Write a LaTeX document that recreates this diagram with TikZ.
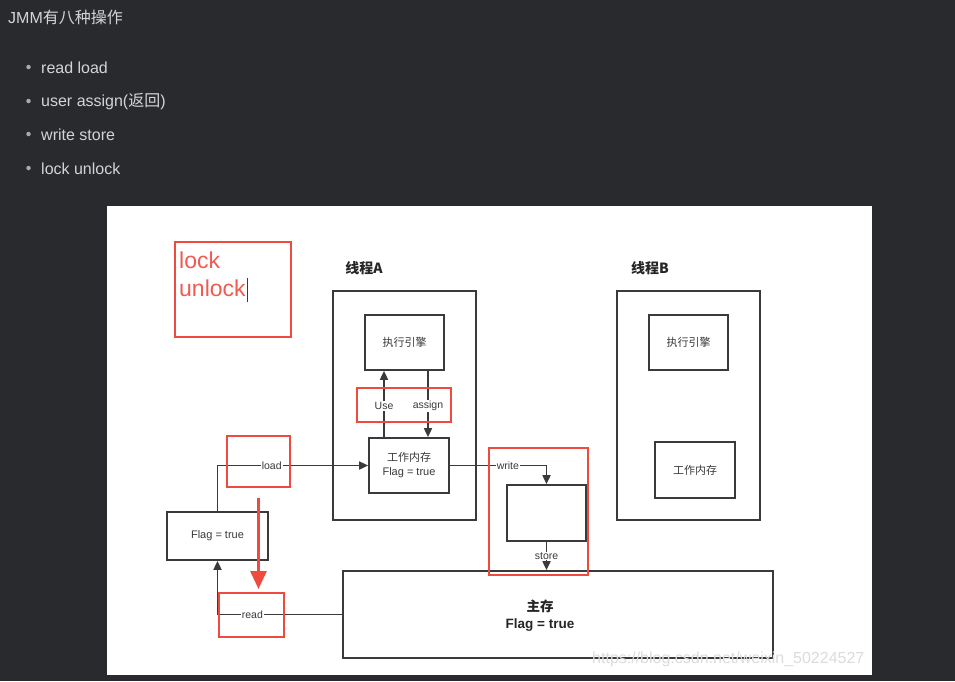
\documentclass[tikz,border=0pt]{standalone}
\usepackage{fontspec}
\setmainfont{Liberation Sans}
\newfontfamily\cjk{Noto Sans CJK SC}
\usetikzlibrary{arrows.meta, positioning}
\usepackage{xcolor}
\definecolor{pagebg}{HTML}{292A2D}
\definecolor{headtext}{HTML}{D4D4D4}
\definecolor{linec}{HTML}{3A3A3A}
\definecolor{markred}{HTML}{EE4B3E}
\definecolor{marktext}{HTML}{F05A50}
\definecolor{wmark}{HTML}{DCDCDC}

\begin{document}
\begin{tikzpicture}[
  x=1pt, y=-1pt,
  box/.style={rectangle, draw=linec, line width=1.7pt, align=center, inner sep=0pt, text=linec, font=\fontsize{11}{14}\selectfont},
  redbox/.style={rectangle, draw=markred, line width=2pt, inner sep=0pt},
  lbl/.style={fill=white, inner sep=1pt, text=linec, font=\fontsize{10.5}{12}\selectfont},
  arr/.style={draw=linec, line width=1.7pt, -{Triangle[length=9pt, width=8pt]}},
  thread/.style={text=black!85, font=\cjk\bfseries\fontsize{14}{16}\selectfont},
  head/.style={anchor=base west, inner sep=0pt, text=headtext, font=\fontsize{16}{19}\selectfont},
  dot/.style={circle, fill=headtext!75!pagebg, inner sep=0pt, minimum size=4.5pt}
]
\useasboundingbox (0,0) rectangle (955,681);
\fill[pagebg] (0,0) rectangle (955,681);
\fill[white] (107,206) rectangle (872,675);

% header list
\node[head] (jmm) at (8,23) {JMM{\cjk 有八种操作}};
\node[dot] (d1) at (28.5,67) {};
\node[head] (op1) at (41,73) {read load};
\node[dot] (d2) at (28.5,101) {};
\node[head] (op2) at (41,106) {user assign({\cjk 返回})};
\node[dot] (d3) at (28.5,134) {};
\node[head] (op3) at (41,140) {write store};
\node[dot] (d4) at (28.5,168) {};
\node[head] (op4) at (41,174) {lock unlock};

% threads
\node[thread] (nameA) at (364,268) {线程A};
\node[box, minimum width=143pt, minimum height=229pt] (thA) at (404.5,405.5) {};
\node[box, minimum width=79pt, minimum height=55pt] (engA) at (404.5,342.5) {\cjk 执行引擎};
\node[box, minimum width=80pt, minimum height=55pt] (workA) at (409,465.5) {{\cjk 工作内存}\\Flag = true};

\node[thread] (nameB) at (650,268) {线程B};
\node[box, minimum width=143pt, minimum height=229pt] (thB) at (688.5,405.5) {};
\node[box, minimum width=79pt, minimum height=55pt] (engB) at (688.5,342.5) {\cjk 执行引擎};
\node[box, minimum width=80pt, minimum height=56pt] (workB) at (695,470) {\cjk 工作内存};

% memory side
\node[box, minimum width=101pt, minimum height=48pt] (flag) at (217.5,536) {Flag = true};
\node[box, minimum width=79pt, minimum height=56pt] (wbox) at (546.5,513) {};
\node[box, minimum width=430pt, minimum height=87pt] (main) at (558,614.5) {};
\node[align=center, text=black!85, font=\bfseries\fontsize{13.5}{17}\selectfont] (maintxt) at (540,616) {{\cjk 主存}\\Flag = true};

% operations
\draw[arr] ([xshift=-25pt]workA.north) -- node[lbl, yshift=-2pt] {Use} ([xshift=-25pt]workA.north |- engA.south);
\draw[arr] ([xshift=19pt]workA.north |- engA.south) -- node[lbl, yshift=-2pt] {assign} ([xshift=19pt]workA.north);
\draw[arr] (flag.north) |- node[lbl, pos=0.68] {load} (workA.west);
\draw[arr] (main.west) -| node[lbl, pos=0.36] {read} (flag.south);
\draw[arr] (workA.east) -| node[lbl, pos=0.3] {write} (wbox.north);
\draw[arr] (wbox.south) -- node[lbl] {store} (wbox.south |- main.north);

% red marks
\node[redbox, minimum width=116pt, minimum height=95pt] (lockbox) at (233,289.5) {};
\node[anchor=north west, align=left, inner sep=0pt, text=marktext, font=\fontsize{23}{28}\selectfont] (locktxt) at ([xshift=5pt, yshift=-11pt]lockbox.north west) {lock\\unlock};
\draw[linec, line width=1pt] ([xshift=1.5pt, yshift=-5pt]locktxt.south east) -- ++(0,-24);
\node[redbox, minimum width=94pt, minimum height=34pt] (userb) at (404,405) {};
\node[redbox, minimum width=63pt, minimum height=51pt] (loadr) at (258.5,461.5) {};
\node[redbox, minimum width=65pt, minimum height=44pt] (readr) at (251.5,615) {};
\node[redbox, minimum width=99pt, minimum height=127pt] (storer) at (538.5,511.5) {};
\draw[markred, line width=3pt, -{Triangle[length=18pt, width=16pt]}] ([yshift=-10pt]loadr.south) -- ([yshift=3pt]loadr.south |- readr.north);

\node[anchor=base west, inner sep=0pt, text=wmark, font=\fontsize{16}{19}\selectfont] (wm) at (592,663) {https://blog.csdn.net/weixin\_50224527};
\end{tikzpicture}
\end{document}
